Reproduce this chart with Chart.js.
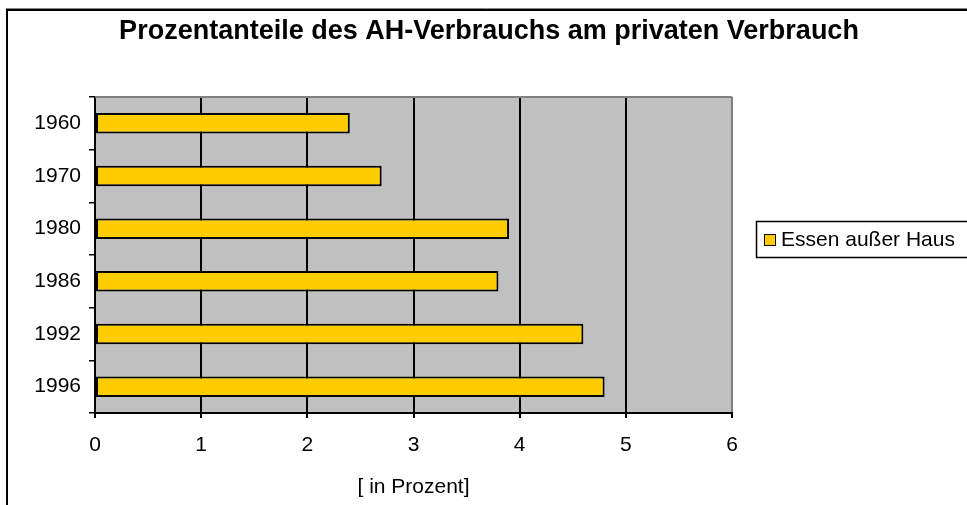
<!DOCTYPE html>
<html>
<head>
<meta charset="utf-8">
<script src="https://cdn.jsdelivr.net/npm/chart.js@4"></script>
<style>
  body { margin: 0; background: #fff; }
  #wrap { width: 967px; height: 505px; }
</style>
</head>
<body>
<div id="wrap"><canvas id="c" width="967" height="505"></canvas></div>
<script>
// data
const years = ['1960', '1970', '1980', '1986', '1992', '1996'];
const shares = [2.4, 2.7, 3.9, 3.8, 4.6, 4.8];
const seriesLabel = 'Essen außer Haus';
const xMin = 0, xMax = 6, xStep = 1;
const chartTitle = 'Prozentanteile des AH-Verbrauchs am privaten Verbrauch';
const axisTitle = '[ in Prozent]';

const FONT = 'Arial, "Liberation Sans", sans-serif';

// Excel-ish look: gray plot area, frame, title, legend box
const excelLook = {
  id: 'excelLook',
  beforeDraw(chart) {
    const { ctx, chartArea: a } = chart;
    ctx.save();
    ctx.fillStyle = '#fff';
    ctx.fillRect(0, 0, chart.width, chart.height);
    ctx.fillStyle = '#c0c0c0';
    ctx.fillRect(a.left, a.top, a.right - a.left, a.bottom - a.top);
    ctx.restore();
  },
  afterDraw(chart) {
    const { ctx, chartArea: a } = chart;
    ctx.save();
    // plot area top border
    ctx.strokeStyle = '#808080';
    ctx.lineWidth = 2;
    ctx.beginPath();
    ctx.moveTo(a.left, a.top);
    ctx.lineTo(a.right, a.top);
    ctx.stroke();

    // outer frame (runs off the right and bottom edge)
    ctx.strokeStyle = '#888';
    ctx.lineWidth = 1;
    ctx.beginPath();
    ctx.moveTo(6, 8.5);
    ctx.lineTo(chart.width, 8.5);
    ctx.stroke();
    ctx.strokeStyle = '#000';
    ctx.lineWidth = 2;
    ctx.strokeRect(7, 10, 2000, 2000);

    // title
    ctx.fillStyle = '#000';
    ctx.font = 'bold 27px ' + FONT;
    ctx.textAlign = 'center';
    ctx.textBaseline = 'middle';
    ctx.fillText(chartTitle, 489, 32);

    // axis title
    ctx.font = '21px ' + FONT;
    ctx.fillText(axisTitle, (a.left + a.right) / 2, 487);

    // legend
    const ds = chart.data.datasets[0];
    ctx.lineWidth = 1.5;
    ctx.strokeStyle = '#000';
    ctx.strokeRect(756.5, 221.5, 400, 36);
    ctx.fillStyle = ds.backgroundColor;
    ctx.fillRect(764, 234, 11, 11);
    ctx.lineWidth = 1;
    ctx.strokeRect(764.5, 234.5, 11, 11);
    ctx.fillStyle = '#000';
    ctx.textAlign = 'left';
    ctx.fillText(ds.label, 781, 240);
    ctx.restore();
  }
};

new Chart(document.getElementById('c'), {
  type: 'bar',
  data: {
    labels: years,
    datasets: [{
      label: seriesLabel,
      data: shares,
      backgroundColor: '#FFCC00',
      borderColor: '#000',
      borderWidth: 2,
      borderSkipped: false,
      categoryPercentage: 1,
      barPercentage: 0.39
    }]
  },
  options: {
    indexAxis: 'y',
    responsive: false,
    animation: false,
    layout: { padding: { top: 97, right: 235, left: 0, bottom: 0 } },
    plugins: { legend: { display: false }, title: { display: false }, tooltip: { enabled: false } },
    scales: {
      x: {
        min: xMin,
        max: xMax,
        ticks: { stepSize: xStep, color: '#000', font: { family: FONT, size: 21 }, padding: 15 },
        grid: {
          color: c => (c.tick && c.tick.value === xMax ? '#808080' : '#000'),
          lineWidth: 2,
          tickColor: '#000',
          tickLength: 5
        },
        border: { color: '#000', width: 2 },
        afterFit: s => { s.height = 92; }
      },
      y: {
        ticks: { color: '#000', font: { family: FONT, size: 21 }, padding: 8 },
        grid: {
          offset: true,
          drawOnChartArea: false,
          tickColor: '#000',
          tickLength: 6,
          lineWidth: 1.5
        },
        border: { color: '#000', width: 2 },
        afterFit: s => { s.width = 95; }
      }
    }
  },
  plugins: [excelLook]
});
</script>
</body>
</html>
